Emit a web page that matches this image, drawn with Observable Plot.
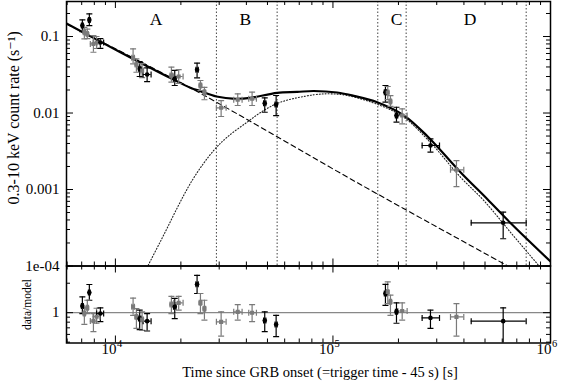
<!DOCTYPE html>
<html>
<head>
<meta charset="utf-8">
<script src="https://cdn.jsdelivr.net/npm/d3@7"></script>
<script src="https://cdn.jsdelivr.net/npm/@observablehq/plot@0.6"></script>
<style>
html, body { margin: 0; padding: 0; background: #fff; }
#chart { position: relative; width: 561px; height: 387px; overflow: hidden; }
#chart svg { position: absolute; left: 0; top: 0; overflow: visible; }
</style>
</head>
<body>
<div id="chart"></div>
<script>
// ---------------- data ----------------
// observations: time since onset [s], time bin, 0.3-10 keV rate [s^-1] with error, data/model ratio with error
const obsTime    = [7050, 7200, 7430, 7590, 7925, 8190, 8530,
                    12060, 12490, 12930, 13270, 13990,
                    18090, 18740, 19540,
                    23740, 24600, 25660,
                    30620, 36500, 42500, 48580, 54810,
                    174300, 178600, 183800, 195900, 208100,
                    280700, 369600, 606000];
const obsTimeLo  = [6980, 7120, 7350, 7520, 7670, 7900, 8200,
                    11900, 12330, 12770, 13100, 13410,
                    17850, 18500, 18540,
                    23450, 24300, 25350,
                    29130, 34990, 41020, 48000, 54200,
                    172300, 176600, 181700, 193700, 198600,
                    257000, 347000, 432000];
const obsTimeHi  = [7120, 7280, 7510, 7660, 8200, 8500, 8830,
                    12220, 12650, 13090, 13440, 14590,
                    18330, 18980, 20470,
                    24030, 24900, 25970,
                    32280, 38230, 44490, 49160, 55420,
                    176300, 180600, 185900, 198100, 219300,
                    308900, 399400, 773000];
const obsRate    = [0.139, 0.114, 0.108, 0.165, 0.080, 0.0835, 0.0835,
                    0.0527, 0.0431, 0.0379, 0.036, 0.0319,
                    0.0309, 0.028, 0.030,
                    0.0367, 0.0229, 0.0187,
                    0.0117, 0.0149, 0.01535, 0.01343, 0.0129,
                    0.0187, 0.0185, 0.01413, 0.00927, 0.00927,
                    0.00376, 0.00181, 0.000367];
const obsRateLo  = [0.116, 0.093, 0.094, 0.139, 0.0623, 0.0697, 0.070,
                    0.044, 0.0341, 0.030, 0.029, 0.0258,
                    0.0253, 0.0229, 0.0243,
                    0.0288, 0.0197, 0.0149,
                    0.0090, 0.01253, 0.01253, 0.01023, 0.00927,
                    0.01384, 0.0150, 0.0122, 0.00759, 0.00723,
                    0.00308, 0.00109, 0.000227];
const obsRateHi  = [0.165, 0.132, 0.125, 0.198, 0.103, 0.100, 0.094,
                    0.069, 0.051, 0.047, 0.0443, 0.039,
                    0.0397, 0.036, 0.037,
                    0.0448, 0.0266, 0.0217,
                    0.01456, 0.0178, 0.0187, 0.0158, 0.01694,
                    0.0229, 0.0222, 0.0169, 0.0119, 0.01135,
                    0.0046, 0.00239, 0.000505];
const obsRatio   = [1.17, 0.98, 1.12, 1.61, 0.82, 0.91, 0.98,
                    1.15, 0.906, 0.873, 0.852, 0.819,
                    1.21, 1.15, 1.26,
                    1.95, 1.26, 1.10,
                    0.806, 1.02, 1.0, 0.83, 0.758,
                    1.57, 1.63, 1.29, 1.02, 1.04,
                    0.885, 0.906, 0.819];
const obsRatioLo = [0.98, 0.76, 0.98, 1.34, 0.64, 0.78, 0.81,
                    0.94, 0.69, 0.67, 0.66, 0.65,
                    0.98, 0.87, 1.06,
                    1.57, 0.98, 0.84,
                    0.576, 0.84, 0.81, 0.64, 0.57,
                    1.19, 1.24, 0.94, 0.78, 0.84,
                    0.69, 0.576, 0.40];
const obsRatioHi = [1.45, 1.12, 1.34, 1.94, 0.98, 1.11, 1.12,
                    1.41, 1.10, 1.06, 1.02, 0.98,
                    1.47, 1.40, 1.47,
                    2.41, 1.57, 1.34,
                    1.02, 1.21, 1.21, 1.02, 0.94,
                    1.95, 2.06, 1.51, 1.26, 1.26,
                    1.06, 1.24, 1.12];
const obsSet     = ["a", "b", "b", "a", "b", "b", "a",
                    "b", "b", "a", "b", "a",
                    "b", "a", "b",
                    "a", "b", "b",
                    "b", "b", "b", "a", "a",
                    "a", "b", "b", "a", "b",
                    "a", "b", "a"];

// model curves
const totalTime  = [5960, 10540, 17900, 22120, 24600, 29130, 35620, 41750, 55390, 68450, 81600,
                    104500, 124600, 159700, 211600, 271100, 385700, 511700, 654900, 1000000];
const totalRate  = [0.148, 0.0624, 0.02868, 0.02141, 0.01928, 0.01643, 0.01533, 0.0158, 0.01837, 0.01887, 0.01939,
                    0.01854, 0.01678, 0.01384, 0.00933, 0.005004, 0.001683, 0.000751, 0.000365, 0.0001145];
const powerTime  = [5960, 22840, 133800, 610000, 1000000];
const powerRate  = [0.1457, 0.0203, 0.001163, 0.0001069, 0.0000493];
const bumpTime   = [13740, 16100, 22520, 28310, 32630, 40310, 48070, 57360, 81600, 97400, 116300,
                    165400, 211600, 280700, 385700, 493600, 654900, 868700, 1000000];
const bumpRate   = [0.000087, 0.000209, 0.00131, 0.00324, 0.00483, 0.00759, 0.01079, 0.01384, 0.01729, 0.01782, 0.01694,
                    0.01253, 0.00881, 0.00411, 0.00145, 0.000718, 0.000276, 0.000107, 0.0000667];

// interval boundaries and labels
const intervalEdges = [29130, 55390, 160700, 217000, 773000];
const intervalNames = ["A", "B", "C", "D"];
const intervalNameTime = [15360, 39600, 195900, 426600];
const intervalNameRate = 0.1658;

// axes
const xDomain = [5960, 1000000];
const xTickValues = [1e4, 1e5, 1e6];
const xTickExponents = ["4", "5", "6"];
const yTopDomain = [1e-4, 0.287];
const yTopTickValues = [0.1, 0.01, 0.001, 1e-4];
const yTopTickLabels = ["0.1", "0.01", "0.001", "1e-04"];
const yBotDomain = [0.49, 3.0];
const yBotTickValues = [1];
const yBotTickLabels = ["1"];
const ratioReference = [1];
const xTitle = "Time since GRB onset (=trigger time - 45 s) [s]";
const yTopTitle = "0.3-10 keV count rate (s\u207B\u00B9)";
const yBotTitle = "data/model";
const setNames = ["a", "b"];

// ---------------- layout ----------------
const W = 561, H = 387;
const LEFT = 66, RIGHT = 550;
const TOP0 = 1, MID = 265.5, BOT1 = 342.5;
const FW = RIGHT - LEFT, FH_TOP = MID - TOP0, FH_BOT = BOT1 - MID;
const FONT = "'Liberation Serif', 'DejaVu Serif', serif";
const INK = "#000", GREY = "#7a7a7a";
const MAJ = 7, MIN = 4;

const obs = obsTime.map((t, i) => ({
  t, tlo: obsTimeLo[i], thi: obsTimeHi[i],
  f: obsRate[i], flo: obsRateLo[i], fhi: obsRateHi[i],
  r: obsRatio[i], rlo: obsRatioLo[i], rhi: obsRatioHi[i],
  set: obsSet[i]
}));
const toRows = (ts, vs) => ts.map((t, i) => ({t, v: vs[i]}));

const capH = {draw(ctx) { ctx.moveTo(-3, 0); ctx.lineTo(3, 0); }};
const capV = {draw(ctx) { ctx.moveTo(0, -3); ctx.lineTo(0, 3); }};

function logTicks(domain) {
  return d3.scaleLog().domain(domain).ticks().filter(v => v >= domain[0] && v <= domain[1]);
}
const isMajor = v => Math.abs(Math.log10(v) - Math.round(Math.log10(v))) < 1e-9;

function frameTicks(xd, yd, fh, yMajorVals) {
  const xt = logTicks(xd), yt = logTicks(yd);
  const xMaj = xt.filter(isMajor), xMin = xt.filter(v => !isMajor(v));
  const yMaj = yMajorVals, yMin = yt.filter(v => !yMajorVals.includes(v));
  const s = {stroke: INK, strokeWidth: 1};
  return [
    Plot.ruleX(xMaj, {x: d => d, insetTop: fh - MAJ, ...s}),
    Plot.ruleX(xMaj, {x: d => d, insetBottom: fh - MAJ, ...s}),
    Plot.ruleX(xMin, {x: d => d, insetTop: fh - MIN, ...s}),
    Plot.ruleX(xMin, {x: d => d, insetBottom: fh - MIN, ...s}),
    Plot.ruleY(yMaj, {y: d => d, insetRight: FW - MAJ, ...s}),
    Plot.ruleY(yMaj, {y: d => d, insetLeft: FW - MAJ, ...s}),
    Plot.ruleY(yMin, {y: d => d, insetRight: FW - MIN, ...s}),
    Plot.ruleY(yMin, {y: d => d, insetLeft: FW - MIN, ...s})
  ];
}

function errorMarks(yk, ylo, yhi) {
  const s = {stroke: "set", strokeWidth: 1.2, clip: true};
  return [
    Plot.ruleY(obs, {y: yk, x1: "tlo", x2: "thi", ...s}),
    Plot.ruleX(obs, {x: "t", y1: ylo, y2: yhi, ...s}),
    Plot.dot(obs, {x: "t", y: ylo, symbol: capH, fill: "none", ...s}),
    Plot.dot(obs, {x: "t", y: yhi, symbol: capH, fill: "none", ...s}),
    Plot.dot(obs, {x: "tlo", y: yk, symbol: capV, fill: "none", ...s}),
    Plot.dot(obs, {x: "thi", y: yk, symbol: capV, fill: "none", ...s}),
    Plot.dot(obs, {x: "t", y: yk, fill: "set", symbol: "set", r: 2.3, clip: true})
  ];
}

const common = {
  width: W, height: H,
  marginLeft: LEFT, marginRight: W - RIGHT,
  style: {background: "transparent", fontFamily: FONT, fontSize: "14px", overflow: "visible"},
  color: {type: "ordinal", domain: setNames, range: [INK, GREY]},
  symbol: {domain: setNames, range: ["circle", "square"]}
};

const topPlot = Plot.plot({
  ...common,
  marginTop: TOP0, marginBottom: H - MID,
  x: {type: "log", domain: xDomain, axis: null},
  y: {type: "log", domain: yTopDomain, axis: null},
  marks: [
    Plot.ruleX(intervalEdges, {x: d => d, stroke: "#444", strokeWidth: 1, strokeDasharray: "1.5,2"}),
    Plot.line(toRows(powerTime, powerRate), {x: "t", y: "v", stroke: INK, strokeWidth: 1.1, strokeDasharray: "5,3.5", curve: "catmull-rom", clip: true}),
    Plot.line(toRows(bumpTime, bumpRate), {x: "t", y: "v", stroke: "#222", strokeWidth: 1.1, strokeDasharray: "1,2", curve: "catmull-rom", clip: true}),
    Plot.line(toRows(totalTime, totalRate), {x: "t", y: "v", stroke: INK, strokeWidth: 2.2, curve: "catmull-rom", clip: true}),
    ...errorMarks("f", "flo", "fhi"),
    Plot.text(intervalNames, {x: (d, i) => intervalNameTime[i], y: () => intervalNameRate, text: d => d, fontSize: 17.5, fontFamily: FONT, fill: INK}),
    ...frameTicks(xDomain, yTopDomain, FH_TOP, yTopTickValues),
    Plot.frame({stroke: INK, strokeWidth: 1.5}),
    Plot.text(yTopTickValues, {y: d => d, text: (d, i) => yTopTickLabels[i], frameAnchor: "left", textAnchor: "end", dx: -7, fontSize: 15, fontFamily: FONT, fill: INK}),
    Plot.text([yTopTitle], {text: d => d, frameAnchor: "left", textAnchor: "middle", rotate: -90, dx: -53, dy: -16, fontSize: 16, fontFamily: FONT, fill: INK})
  ]
});

const botPlot = Plot.plot({
  ...common,
  marginTop: MID, marginBottom: H - BOT1,
  x: {type: "log", domain: xDomain, axis: null},
  y: {type: "log", domain: yBotDomain, axis: null},
  marks: [
    Plot.ruleY(ratioReference, {y: d => d, stroke: "#888", strokeWidth: 1.3}),
    ...errorMarks("r", "rlo", "rhi"),
    ...frameTicks(xDomain, yBotDomain, FH_BOT, yBotTickValues),
    Plot.frame({stroke: INK, strokeWidth: 1.5}),
    Plot.text(yBotTickValues, {y: d => d, text: (d, i) => yBotTickLabels[i], frameAnchor: "left", textAnchor: "end", dx: -7, fontSize: 15, fontFamily: FONT, fill: INK}),
    Plot.text([yBotTitle], {text: d => d, frameAnchor: "left", textAnchor: "middle", rotate: -90, dx: -39, fontSize: 11.5, fontFamily: FONT, fill: INK}),
    Plot.text(xTickValues, {x: d => d, text: () => "10", frameAnchor: "bottom", textAnchor: "end", dx: 1, dy: 11, fontSize: 15, fontFamily: FONT, fill: INK}),
    Plot.text(xTickValues, {x: d => d, text: (d, i) => xTickExponents[i], frameAnchor: "bottom", textAnchor: "start", dx: 1.5, dy: 4, fontSize: 10.5, fontFamily: FONT, fill: INK}),
    Plot.text([xTitle], {text: d => d, frameAnchor: "bottom", textAnchor: "middle", dx: 11.5, dy: 33.5, fontSize: 14.5, fontFamily: FONT, fill: INK})
  ]
});

const chart = document.getElementById("chart");
chart.append(topPlot, botPlot);
</script>
</body>
</html>
